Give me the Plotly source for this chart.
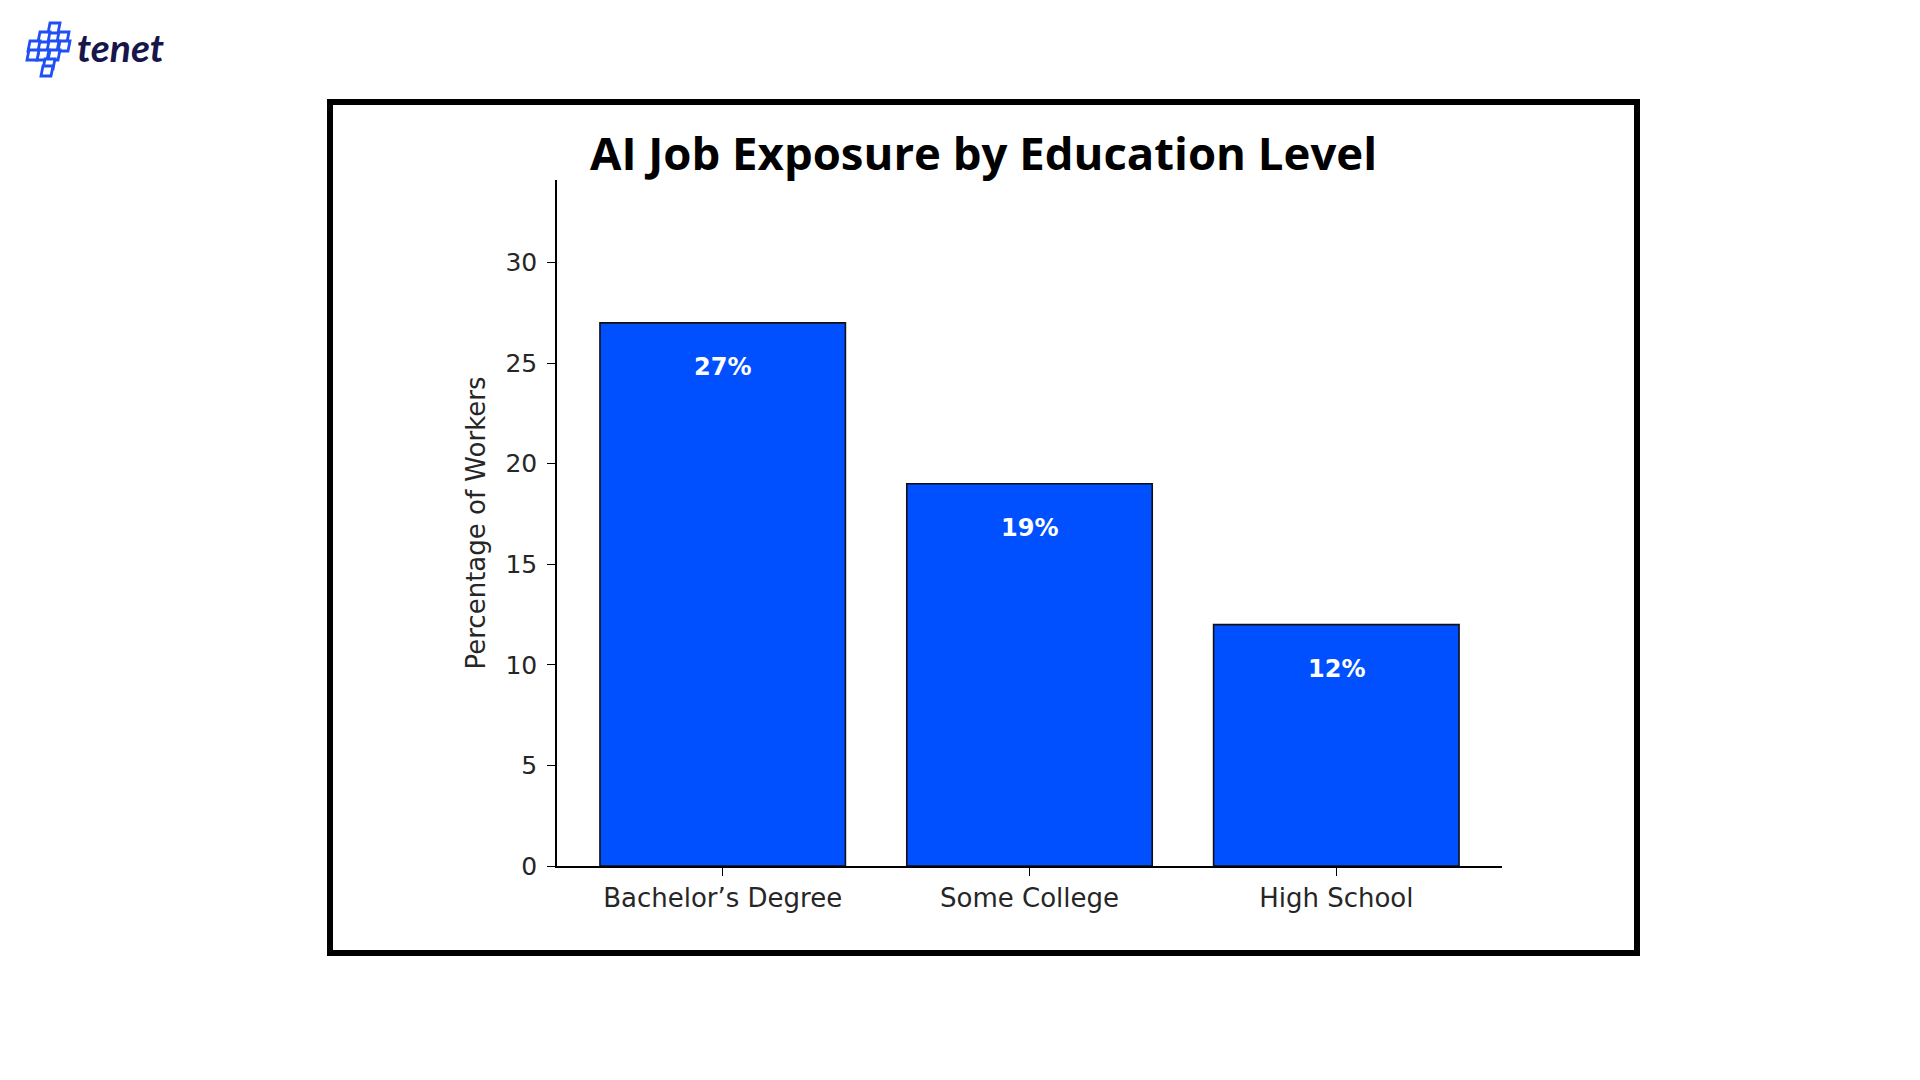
import plotly.graph_objects as go

categories = ["Bachelor’s Degree", "Some College", "High School"]
values = [27, 19, 12]
y_ticks = [0, 5, 10, 15, 20, 25, 30]
title_text = "AI Job Exposure by Education Level"
y_title = "Percentage of Workers"

OFF = 8  # default page margin of the browser body
W, H = 1920 - 2 * OFF, 1080 - 2 * OFF
L, R, T, B = 557, 1502, 180, 866  # plot area in screen pixels

def px(x):
    return (x - L) / (R - L)

def py(y):
    return (B - y) / (B - T)

fig = go.Figure()
fig.add_trace(go.Bar(
    x=categories, y=values, width=0.8,
    marker=dict(color="#0050FF", line=dict(color="#111111", width=1.6)),
    hoverinfo="skip",
))

annotations = []
for c, v in zip(categories, values):
    annotations.append(dict(
        x=c, y=v, xref="x", yref="y", text=f"<b>{v}%</b>", showarrow=False,
        yshift=-44, font=dict(family="DejaVu Sans", size=24, color="white"),
    ))
annotations.append(dict(
    x=px(983), y=py(152), xref="paper", yref="paper", text=f"<b>{title_text}</b>",
    showarrow=False, font=dict(family="Open Sans", size=45.5, color="black"),
    xanchor="center", yanchor="middle",
))
annotations.append(dict(
    x=px(75), y=py(47), xref="paper", yref="paper", text="<b><i>tenet</i></b>",
    showarrow=False, font=dict(family="Lato", size=39, color="#16164a"),
    xanchor="left", yanchor="middle",
))
fig.update_layout(annotations=annotations)

shapes = []
shapes.append(dict(type="rect", xref="paper", yref="paper",
                   x0=px(330), x1=px(1637), y0=py(102), y1=py(953),
                   line=dict(color="black", width=6), fillcolor="rgba(0,0,0,0)", layer="below"))

# logo icon: skewed staggered squares
def para(x0, y0, s, skew):
    pts = [(x0 + skew, y0), (x0 + s + skew, y0), (x0 + s, y0 + s), (x0, y0 + s)]
    path = "M " + " L ".join(f"{px(a):.5f},{py(b):.5f}" for a, b in pts) + " Z"
    return dict(type="path", xref="paper", yref="paper", path=path,
                line=dict(color="#1f4ff5", width=2.8), fillcolor="white")

s = 10
icon_cells = [
    (48, 23), (57, 32),
    (38, 32), (47, 41), (58, 41),
    (28, 41), (37, 50), (48, 50),
    (27, 50), (43, 59),
    (41, 66),
]
for (x0, y0) in icon_cells:
    shapes.append(para(x0, y0, s, 2))
fig.update_layout(shapes=shapes)

fig.update_layout(
    width=W, height=H,
    margin=dict(l=L - OFF, r=W - (R - OFF), t=T - OFF, b=H - (B - OFF), pad=0),
    paper_bgcolor="white", plot_bgcolor="white",
    showlegend=False,
    xaxis=dict(
        range=[-0.54, 2.54], showline=True, linecolor="black", linewidth=1.6,
        ticks="outside", ticklen=8, tickwidth=1.3, tickcolor="black",
        tickfont=dict(family="DejaVu Sans", size=26, color="#262626"),
        showgrid=False, zeroline=False, fixedrange=True,
    ),
    yaxis=dict(
        range=[0, 34.1], showline=True, linecolor="black", linewidth=1.6,
        tickvals=y_ticks, ticks="outside", ticklen=8, tickwidth=1.3, tickcolor="black",
        ticklabelstandoff=5,
        tickfont=dict(family="DejaVu Sans", size=25, color="#262626"),
        title=dict(text=y_title, font=dict(family="DejaVu Sans", size=26, color="#262626"), standoff=12),
        showgrid=False, zeroline=False, fixedrange=True,
    ),
)

fig.write_html("out.html")
